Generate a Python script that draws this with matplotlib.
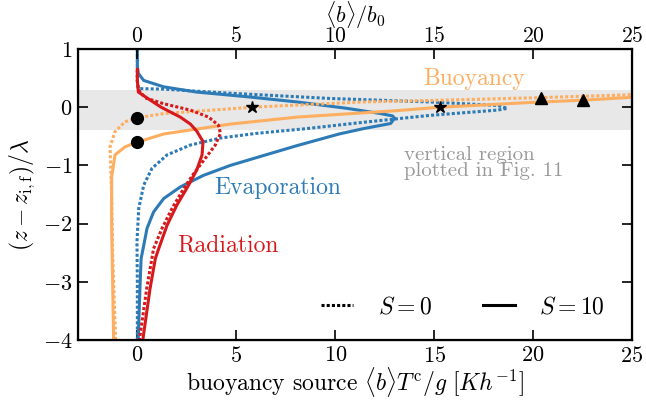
import matplotlib
matplotlib.use('Agg')
import matplotlib.pyplot as plt
from matplotlib.lines import Line2D

plt.rcParams['font.family'] = 'serif'
plt.rcParams['font.serif'] = ['cmr10']
plt.rcParams['mathtext.fontset'] = 'cm'
plt.rcParams['axes.formatter.use_mathtext'] = True

# buoyancy source profiles, x = <b>T^c/g, y = (z - z_if)/lambda
evap_s10_x = [0.0, 0.0, 0.05, 0.32, 1.33, 3.0, 5.54, 8.07, 10.6, 12.3, 12.9, 13.0, 12.8, 11.4,
              10.2, 8.07, 6.38, 4.7, 3.35, 2.17, 1.33, 0.82, 0.49, 0.29, 0.19, 0.13, 0.05, 0.05]
evap_s10_y = [1.0, 0.7, 0.58, 0.46, 0.35, 0.26, 0.18, 0.09, -0.02, -0.11, -0.15, -0.19, -0.28, -0.37,
              -0.46, -0.66, -0.83, -1.0, -1.17, -1.37, -1.57, -1.80, -2.08, -2.43, -2.60, -3.12, -3.92, -4.0]

evap_s0_x = [0.0, 0.0, 0.05, 1.33, 4.7, 9.75, 14.8, 18.2, 18.7, 18.2, 14.8, 11.4, 8.5, 6.0,
             4.19, 2.68, 1.5, 0.74, 0.32, 0.07, -0.02, 0.0, 0.0]
evap_s0_y = [1.0, 0.45, 0.32, 0.31, 0.24, 0.15, 0.09, 0.03, -0.02, -0.05, -0.14, -0.26, -0.37, -0.45,
             -0.53, -0.65, -0.82, -1.05, -1.34, -1.74, -2.31, -3.0, -4.0]

rad_s10_x = [0.0, 0.0, 0.05, 0.66, 1.2, 2.17, 2.68, 3.0, 3.32, 3.27, 3.0, 2.59, 2.0, 1.5,
             1.08, 0.91, 0.64, 0.3, 0.28]
rad_s10_y = [0.65, 0.45, 0.26, 0.12, 0.0, -0.17, -0.29, -0.41, -0.59, -0.82, -1.08, -1.34, -1.68, -2.03,
             -2.43, -2.60, -3.12, -3.94, -4.0]

rad_s0_x = [0.0, 0.0, 0.05, 0.4, 1.33, 2.68, 3.6, 4.1, 4.2, 3.94, 3.43, 2.85, 2.34, 1.75,
            1.25, 0.82, 0.47, 0.13, 0.12]
rad_s0_y = [0.65, 0.45, 0.3, 0.16, 0.06, -0.05, -0.17, -0.31, -0.45, -0.65, -0.88, -1.14, -1.40, -1.74,
            -2.08, -2.43, -3.12, -3.94, -4.0]

buoy_s10_x = [-1.2, -1.25, -1.3, -1.3, -1.13, -0.62, 0.0, 1.33, 4.7, 8.07, 13.1, 15.3, 19.8, 22.5, 25.5]
buoy_s10_y = [-4.0, -3.0, -2.0, -1.2, -0.82, -0.68, -0.6, -0.46, -0.29, -0.17, -0.06, 0.0, 0.08, 0.12, 0.18]

buoy_s0_x = [-1.1, -1.15, -1.25, -1.3, -1.36, -1.38, -1.13, -0.62, 0.0, 1.33, 5.8, 11.4, 16.5,
             20.4, 25.5]
buoy_s0_y = [-4.0, -3.5, -2.5, -1.5, -0.9, -0.68, -0.42, -0.25, -0.18, -0.11, 0.0, 0.09, 0.13,
             0.165, 0.22]

# markers on the buoyancy curves
circle_x = [0.0, 0.0]
circle_y = [-0.18, -0.6]
star_x = [5.8, 15.3]
star_y = [0.0, 0.0]
tri_x = [20.4, 22.5]
tri_y = [0.165, 0.12]

band_lo, band_hi = -0.4, 0.3

orange = '#fdae61'
blue = '#2c7bb6'
red = '#d7191c'
fs = 17
tfs = 16

fig = plt.figure(figsize=(6.46, 4.01), dpi=100)
ax = fig.add_axes([78 / 646, 1 - 340 / 401, (632 - 78) / 646, (340 - 49) / 401])

ax.axhspan(band_lo, band_hi, color='#e8e8e8', lw=0, zorder=0)

lw = 2.2
dots = (1, 0.7)
ax.plot(evap_s0_x, evap_s0_y, color=blue, lw=lw, dashes=dots)
ax.plot(evap_s10_x, evap_s10_y, color=blue, lw=lw)
ax.plot(buoy_s0_x, buoy_s0_y, color=orange, lw=lw, dashes=dots)
ax.plot(buoy_s10_x, buoy_s10_y, color=orange, lw=lw)
ax.plot(rad_s0_x, rad_s0_y, color=red, lw=lw, dashes=dots)
ax.plot(rad_s10_x, rad_s10_y, color=red, lw=lw)

ax.plot(circle_x, circle_y, 'o', color='k', ms=8.5, zorder=5)
ax.plot(star_x, star_y, '*', color='k', ms=9, zorder=5)
ax.plot(tri_x, tri_y, '^', color='k', ms=9, zorder=5)

ax.text(17.0, 0.49, 'Buoyancy', color=orange, fontsize=fs, ha='center', va='center')
ax.text(7.1, -1.38, 'Evaporation', color=blue, fontsize=fs, ha='center', va='center')
ax.text(4.57, -2.38, 'Radiation', color=red, fontsize=fs, ha='center', va='center')
ax.text(13.5, -0.96, 'vertical region\nplotted in Fig. 11', color='#999999', fontsize=15,
        ha='left', va='center', linespacing=0.85)

ax.set_xlim(-3, 25)
ax.set_ylim(-4, 1)
ax.set_xticks([0, 5, 10, 15, 20, 25])
ax.set_yticks([-4, -3, -2, -1, 0, 1])
ax.tick_params(direction='in', length=7, width=1.2, labelsize=tfs, right=True, top=False, pad=4)
for s in ax.spines.values():
    s.set_linewidth(1.6)
ax.set_xlabel(r'buoyancy source $\langle b\rangle T^{\mathrm{c}}/g\ [Kh^{-1}]$', fontsize=fs, va='center')
ax.xaxis.set_label_coords(0.5, -(382 - 340) / 291)
ax.set_ylabel(r'$(z-z_{\mathrm{i,f}})/\lambda$', fontsize=fs, va='center')
ax.yaxis.set_label_coords(-(78 - 22) / 554, 0.5)

top = ax.twiny()
top.set_xlim(-3, 25)
top.set_xticks([0, 5, 10, 15, 20, 25])
top.tick_params(direction='in', length=7, width=1.2, labelsize=15.5, pad=2)
top.set_xlabel(r'$\langle b\rangle/b_0$', fontsize=16, va='center')
top.xaxis.set_label_coords(0.5, 1 + (49 - 15) / 291)

handles = [Line2D([], [], color='k', lw=lw, dashes=dots),
           Line2D([], [], color='k', lw=lw)]
ax.legend(handles, ['$S=0$', '$S=10$'], ncol=2, frameon=False, fontsize=fs,
          loc='lower right', bbox_to_anchor=(0.99, 0.0), handlelength=1.35,
          handletextpad=1.05, columnspacing=2.15)

fig.savefig('out.png', dpi=100)
